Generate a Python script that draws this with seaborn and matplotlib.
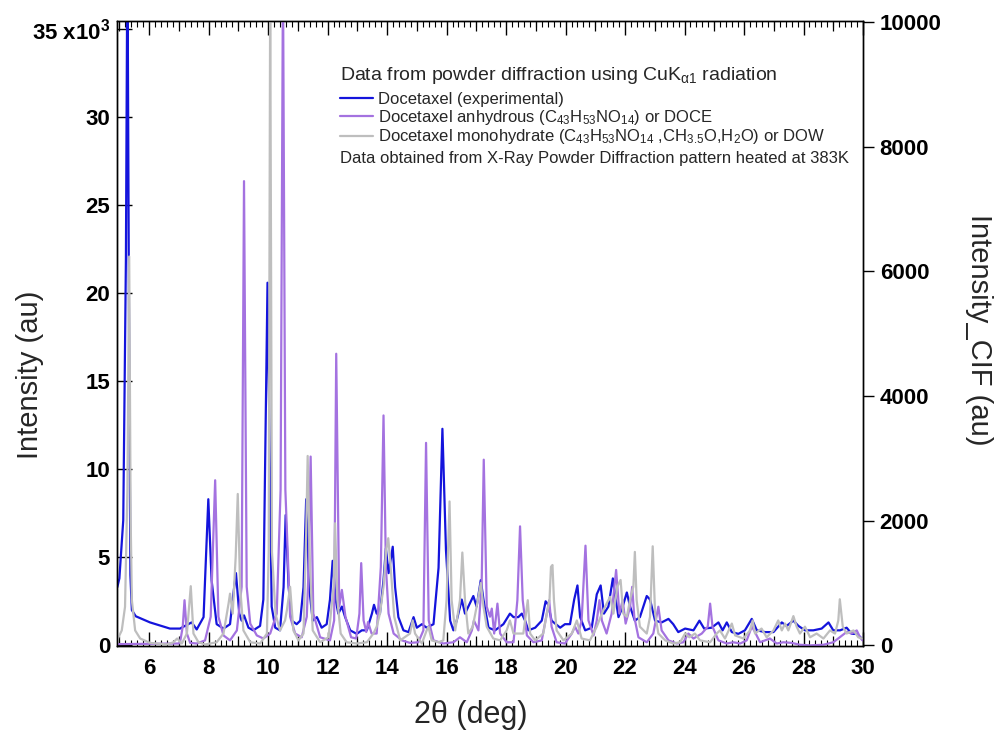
import numpy as np
import matplotlib
matplotlib.use("Agg")
import matplotlib.pyplot as plt
import seaborn as sns
from matplotlib.ticker import MultipleLocator, FixedLocator, FuncFormatter
from matplotlib.lines import Line2D

# ---------------- data ----------------
# Docetaxel experimental pattern: (2theta, counts) -> left axis
BLUE_PTS = [
    (4.93, 3300), (5.0, 3800), (5.13, 7100), (5.22, 22000), (5.27, 40000), (5.32, 20000),
    (5.37, 4000), (5.42, 2000), (5.55, 1650), (6.03, 1300), (6.7, 950), (7.04, 950),
    (7.2, 1100), (7.43, 1300), (7.6, 900), (7.83, 1600), (7.99, 8300), (8.1, 3700),
    (8.27, 1200), (8.5, 950), (8.72, 1200), (8.83, 2900), (8.92, 4100), (9.03, 1800),
    (9.11, 1400), (9.19, 1700), (9.34, 1000), (9.5, 850), (9.73, 1100), (9.84, 2600),
    (9.98, 20600), (10.12, 2200), (10.24, 1000), (10.4, 850), (10.52, 3300), (10.59, 7400),
    (10.69, 3300), (10.8, 1400), (10.96, 1200), (11.08, 1400), (11.19, 3300), (11.28, 8300),
    (11.38, 3300), (11.5, 1400), (11.64, 1600), (11.8, 1000), (11.97, 1200), (12.08, 2600),
    (12.17, 4800), (12.27, 2600), (12.36, 1800), (12.48, 2200), (12.59, 1600), (12.76, 850),
    (12.98, 650), (13.15, 850), (13.32, 850), (13.49, 1800), (13.56, 2300), (13.65, 1800),
    (13.76, 1800), (13.88, 3700), (13.96, 5500), (14.05, 4100), (14.19, 5600), (14.27, 3300),
    (14.38, 1600), (14.55, 850), (14.72, 750), (14.89, 1600), (15.0, 1000), (15.17, 1200),
    (15.33, 1000), (15.56, 1200), (15.73, 4400), (15.86, 12300), (15.98, 5400), (16.12, 1400),
    (16.23, 850), (16.34, 1400), (16.51, 2600), (16.62, 1800), (16.79, 2400), (16.9, 2800),
    (17.01, 2200), (17.15, 3700), (17.24, 2600), (17.41, 1000), (17.63, 850), (17.91, 1200),
    (18.13, 1800), (18.25, 1600), (18.41, 1600), (18.53, 1800), (18.64, 1400), (18.75, 850),
    (18.98, 1000), (19.2, 1400), (19.33, 2500), (19.42, 2300), (19.53, 1400), (19.82, 1000),
    (19.98, 1200), (20.15, 1200), (20.29, 2600), (20.4, 3400), (20.49, 1600), (20.66, 850),
    (20.88, 1000), (21.05, 2900), (21.18, 3400), (21.29, 1800), (21.44, 2200), (21.59, 3800),
    (21.66, 2900), (21.78, 1600), (21.92, 2200), (22.06, 3000), (22.17, 2200), (22.33, 1400),
    (22.5, 1600), (22.73, 2800), (22.84, 2600), (23.01, 1400), (23.23, 1300), (23.46, 1500),
    (23.62, 1200), (23.79, 750), (24.02, 950), (24.3, 850), (24.5, 1400), (24.66, 950),
    (24.91, 1000), (25.14, 1300), (25.28, 850), (25.42, 1300), (25.59, 750), (25.81, 650),
    (26.03, 850), (26.26, 1500), (26.43, 850), (26.71, 750), (26.99, 750), (27.27, 1300),
    (27.43, 1100), (27.66, 1400), (27.83, 1100), (28.05, 850), (28.33, 850), (28.61, 950),
    (28.84, 1300), (29.0, 850), (29.23, 850), (29.45, 1000), (29.62, 650), (29.79, 650),
    (29.95, 400),
]

# Docetaxel anhydrous (CIF) -> right axis
PURPLE_PTS = [
    (4.92, 20), (7.0, 30), (7.04, 50), (7.13, 300), (7.19, 725), (7.27, 190), (7.38, 40),
    (7.6, 30), (7.88, 80), (8.07, 460), (8.22, 2650), (8.33, 460), (8.5, 160), (8.72, 80),
    (8.95, 240), (9.11, 940), (9.19, 7450), (9.28, 940), (9.4, 350), (9.62, 160), (9.84, 110),
    (10.07, 190), (10.29, 510), (10.42, 2500), (10.5, 10800), (10.58, 2500), (10.74, 460),
    (10.91, 190), (11.13, 130), (11.3, 460), (11.36, 1200), (11.43, 3030), (11.52, 510),
    (11.75, 130), (12.08, 80), (12.22, 400), (12.29, 4680), (12.39, 620), (12.48, 890),
    (12.6, 460), (12.79, 130), (12.96, 110), (13.07, 510), (13.13, 1320), (13.21, 400),
    (13.3, 215), (13.36, 375), (13.48, 190), (13.65, 190), (13.79, 1260), (13.88, 3690),
    (13.96, 1260), (14.05, 510), (14.22, 190), (14.5, 80), (14.77, 40), (15.05, 50),
    (15.22, 240), (15.31, 3250), (15.4, 400), (15.56, 80), (15.89, 30), (16.23, 50),
    (16.45, 130), (16.68, 50), (16.85, 240), (16.92, 400), (17.07, 240), (17.18, 1000),
    (17.25, 2980), (17.35, 620), (17.46, 460), (17.52, 590), (17.6, 190), (17.71, 670),
    (17.8, 190), (18.02, 50), (18.25, 50), (18.38, 725), (18.47, 1910), (18.56, 725),
    (18.7, 160), (18.92, 50), (19.2, 80), (19.37, 510), (19.45, 725), (19.53, 300),
    (19.7, 50), (19.98, 30), (20.21, 190), (20.32, 300), (20.43, 190), (20.54, 400),
    (20.67, 1600), (20.77, 400), (20.94, 160), (21.05, 400), (21.14, 725), (21.22, 400),
    (21.38, 190), (21.55, 510), (21.7, 1210), (21.81, 510), (21.92, 725), (22.02, 350),
    (22.17, 620), (22.24, 940), (22.31, 460), (22.45, 130), (22.73, 50), (22.95, 190),
    (23.12, 620), (23.23, 240), (23.46, 80), (23.74, 30), (23.96, 50), (24.13, 190),
    (24.3, 110), (24.58, 190), (24.78, 300), (24.86, 670), (24.94, 300), (25.14, 80),
    (25.42, 30), (25.64, 50), (25.87, 30), (26.09, 80), (26.26, 300), (26.34, 240),
    (26.54, 50), (26.87, 110), (27.1, 30), (27.32, 50), (27.6, 40), (27.88, 10), (28.22, 0),
    (28.67, 10), (29.0, 50), (29.22, 130), (29.45, 215), (29.62, 190), (29.79, 240),
    (29.9, 130), (29.98, 80),
]

# Docetaxel monohydrate (CIF) -> right axis
GRAY_PTS = [
    (4.92, 80), (5.08, 240), (5.19, 620), (5.27, 2500), (5.33, 6240), (5.38, 2000),
    (5.42, 725), (5.53, 240), (5.7, 110), (6.03, 40), (6.6, 15), (6.82, 50), (6.94, 110),
    (7.1, 30), (7.27, 190), (7.4, 950), (7.49, 190), (7.66, 50), (7.88, 15), (8.27, 50),
    (8.5, 190), (8.67, 670), (8.72, 830), (8.81, 510), (8.91, 1420), (8.98, 2430),
    (9.06, 940), (9.17, 240), (9.4, 50), (9.73, 30), (9.96, 190), (10.02, 1500),
    (10.07, 10600), (10.13, 1500), (10.25, 500), (10.4, 240), (10.57, 400), (10.63, 560),
    (10.74, 940), (10.85, 240), (11.02, 80), (11.19, 190), (11.28, 1800), (11.33, 3040),
    (11.41, 1260), (11.5, 240), (11.75, 50), (12.03, 130), (12.2, 940), (12.25, 1960),
    (12.33, 725), (12.44, 190), (12.64, 50), (12.98, 30), (13.32, 50), (13.54, 190),
    (13.65, 300), (13.76, 510), (13.88, 940), (13.97, 1530), (14.04, 1720), (14.12, 1260),
    (14.24, 460), (14.44, 80), (14.77, 190), (14.86, 400), (14.94, 190), (15.17, 30),
    (15.33, 240), (15.39, 300), (15.5, 80), (15.73, 50), (15.89, 80), (16.0, 725),
    (16.1, 2310), (16.17, 725), (16.29, 240), (16.45, 725), (16.53, 1490), (16.62, 725),
    (16.73, 190), (16.88, 300), (17.01, 620), (17.15, 1000), (17.24, 620), (17.35, 300),
    (17.57, 110), (17.8, 80), (18.02, 240), (18.13, 400), (18.25, 190), (18.58, 190),
    (18.73, 725), (18.81, 190), (18.98, 80), (19.25, 190), (19.37, 510), (19.46, 725),
    (19.51, 1260), (19.56, 1290), (19.61, 725), (19.7, 240), (19.93, 80), (20.21, 190),
    (20.38, 400), (20.54, 110), (20.82, 80), (21.05, 300), (21.22, 510), (21.38, 670),
    (21.5, 780), (21.61, 510), (21.74, 940), (21.85, 1050), (21.94, 510), (22.06, 460),
    (22.19, 780), (22.28, 940), (22.33, 1500), (22.39, 725), (22.5, 300), (22.73, 190),
    (22.84, 460), (22.93, 1590), (23.01, 510), (23.12, 190), (23.35, 80), (23.62, 30),
    (23.85, 50), (24.02, 190), (24.16, 130), (24.35, 190), (24.52, 80), (24.86, 50),
    (25.08, 190), (25.19, 240), (25.36, 110), (25.59, 350), (25.7, 160), (25.98, 110),
    (26.2, 240), (26.29, 400), (26.37, 190), (26.59, 270), (26.76, 130), (26.99, 240),
    (27.15, 400), (27.27, 240), (27.38, 350), (27.49, 240), (27.66, 470), (27.77, 300),
    (27.88, 190), (28.05, 300), (28.22, 130), (28.44, 190), (28.67, 110), (28.89, 240),
    (29.06, 190), (29.17, 400), (29.22, 740), (29.32, 300), (29.45, 190), (29.68, 240),
    (29.84, 130), (29.97, 110),
]

blue_x, blue_y = map(list, zip(*BLUE_PTS))
purple_x, purple_y = map(list, zip(*PURPLE_PTS))
gray_x, gray_y = map(list, zip(*GRAY_PTS))

left_ticks = [0, 5000, 10000, 15000, 20000, 25000, 30000, 35000]
right_ticks = [0, 2000, 4000, 6000, 8000, 10000]
x_major = [6, 8, 10, 12, 14, 16, 18, 20, 22, 24, 26, 28, 30]
x_odd = [5, 7, 9, 11, 13, 15, 17, 19, 21, 23, 25, 27, 29]

labels = [
    "Docetaxel (experimental)",
    "Docetaxel anhydrous (C$_{43}$H$_{53}$NO$_{14}$) or DOCE",
    "Docetaxel monohydrate (C$_{43}$H$_{53}$NO$_{14}$ ,CH$_{3.5}$O,H$_{2}$O) or DOW",
]
legend_title = "Data from powder diffraction using CuK$_{\\alpha1}$ radiation"
footer = "Data obtained from X-Ray Powder Diffraction pattern heated at 383K"

BLUE = "#1414dc"
PURPLE = "#a472e0"
GRAY = "#bebebe"

# ---------------- style ----------------
sns.set_theme(style="white")
plt.rcParams['font.family'] = ['Liberation Sans', 'DejaVu Sans']
plt.rcParams['mathtext.fontset'] = 'custom'
plt.rcParams['mathtext.rm'] = 'Liberation Sans'
plt.rcParams['mathtext.it'] = 'Liberation Sans:italic'
plt.rcParams['mathtext.bf'] = 'Liberation Sans:bold'
plt.rcParams['mathtext.default'] = 'regular'

fig = plt.figure(figsize=(9.95, 7.35), dpi=100)
L, R, T, B = 117, 863, 21, 646
ax = fig.add_axes([L / 995, 1 - B / 735, (R - L) / 995, (B - T) / 735])
ax2 = ax.twinx()

LW = 1.6
sns.lineplot(x=blue_x, y=blue_y, ax=ax, color=BLUE, linewidth=LW,
             estimator=None, sort=False)
sns.lineplot(x=purple_x, y=purple_y, ax=ax2, color=PURPLE, linewidth=LW,
             estimator=None, sort=False)
sns.lineplot(x=gray_x, y=gray_y, ax=ax2, color=GRAY, linewidth=LW,
             estimator=None, sort=False)

ax.set_xlim(4.92, 30.0)
ax.set_ylim(-40, 35470)
ax2.set_ylim(-10, 10020)

# x ticks
ax.xaxis.set_major_locator(FixedLocator(x_major))
ax.xaxis.set_minor_locator(MultipleLocator(0.2))
ax.tick_params(axis='x', which='both', direction='in', top=True, bottom=True,
               colors='black')
ax.tick_params(axis='x', which='major', length=10, width=1, labelsize=16, pad=9)
ax.tick_params(axis='x', which='minor', length=4, width=0.8)
for loc in ('bottom', 'top'):
    sec = ax.secondary_xaxis(loc)
    sec.set_xticks(x_odd)
    sec.tick_params(direction='in', length=7, width=0.9, labelbottom=False,
                    labeltop=False, colors='black')
    for s in sec.spines.values():
        s.set_visible(False)

# left y ticks
ax.yaxis.set_major_locator(FixedLocator(left_ticks))
ax.yaxis.set_major_formatter(FuncFormatter(
    lambda v, p: "35 x10$^{3}$" if v == 35000 else f"{int(round(v / 1000))}"))
ax.tick_params(axis='y', which='major', direction='in', length=11, width=1,
               labelsize=16, left=True, right=False, colors='black', pad=5)

# right y ticks
ax2.yaxis.set_major_locator(FixedLocator(right_ticks))
ax2.yaxis.set_major_formatter(FuncFormatter(lambda v, p: f"{int(v)}"))
ax2.tick_params(axis='y', which='major', direction='out', length=8, width=1,
                labelsize=16, right=True, left=False, colors='black', pad=4)

for a in (ax, ax2):
    for s in a.spines.values():
        s.set_color('black')
        s.set_linewidth(1.0)

plt.setp(ax.get_xticklabels(), fontweight='bold')
plt.setp(ax.get_yticklabels(), fontweight='bold')
plt.setp(ax2.get_yticklabels(), fontweight='bold')

# axis labels
ax.set_xlabel("2\u03b8 (deg)", fontsize=22)
ax.xaxis.set_label_coords((471 - L) / (R - L), -(697 - B) / (B - T) - 0.005)
ax.set_ylabel("Intensity (au)", fontsize=21)
ax.yaxis.set_label_coords((44 - L) / (R - L), (B - 375) / (B - T))
ax2.set_ylabel("")
fig.text(979 / 995, 1 - 330 / 735, "Intensity_CIF (au)", fontsize=21,
         rotation=270, ha='center', va='center')

# legend
fig.text(340 / 995, 1 - 75 / 735, legend_title, fontsize=14, va='center', ha='left')
handles = [Line2D([], [], color=c, lw=LW) for c in (BLUE, PURPLE, GRAY)]
leg = ax2.legend(handles, labels, loc='upper left',
                 bbox_to_anchor=(340 / 995, 1 - 92 / 735),
                 bbox_transform=fig.transFigure, frameon=False, fontsize=12,
                 handlelength=2.0, handletextpad=0.3, labelspacing=0.04,
                 borderpad=0, borderaxespad=0)
fig.text(340 / 995, 1 - 158 / 735, footer, fontsize=12, va='center', ha='left')

fig.savefig("out.png", dpi=100)
